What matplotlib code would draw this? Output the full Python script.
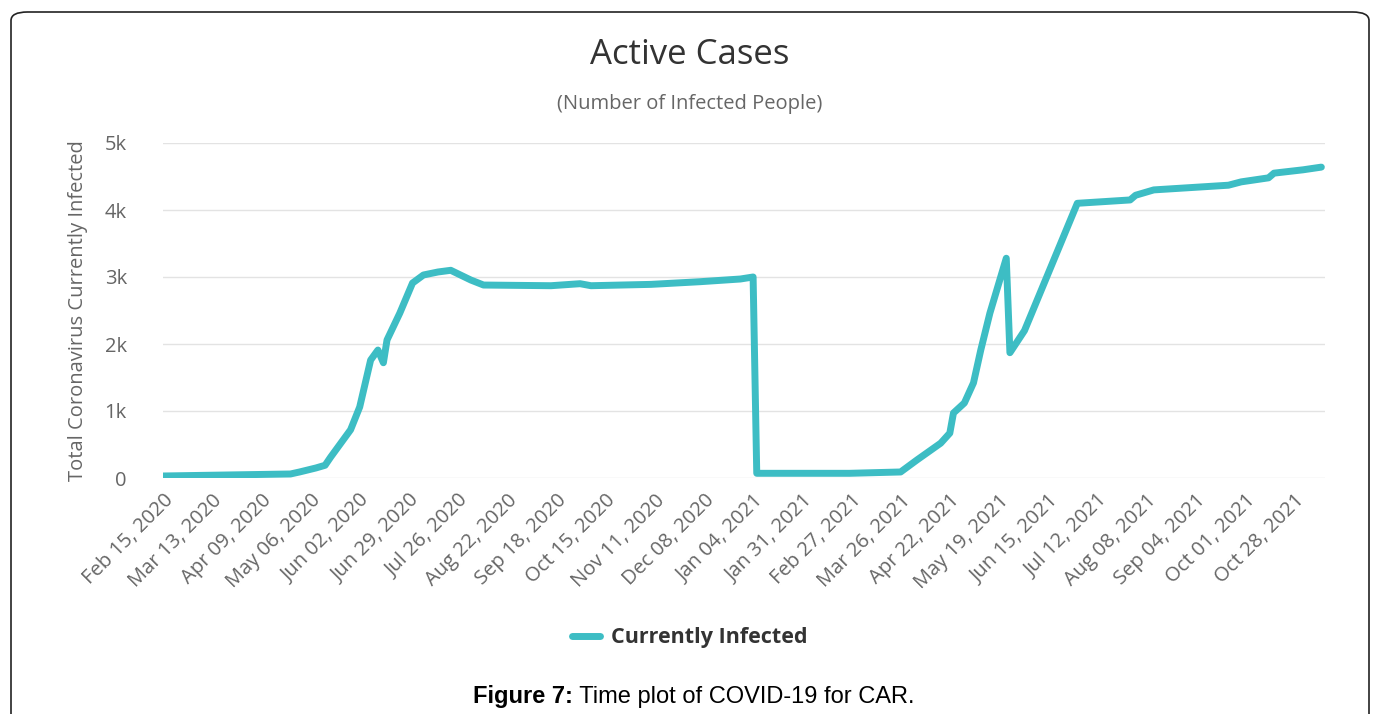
"""
plot.py – Active COVID-19 cases for CAR, redrawn as a single time plot.
"""

import matplotlib
matplotlib.use("Agg")
import matplotlib.pyplot as plt
from matplotlib.patches import FancyBboxPatch
import pandas as pd

# ── Data ─────────────────────────────────────────────────────────────────────
dates = [
    "2020-02-15", "2020-04-25", "2020-04-30", "2020-05-09", "2020-05-14",
    "2020-05-17", "2020-05-28", "2020-06-02", "2020-06-08", "2020-06-12",
    "2020-06-15", "2020-06-17", "2020-06-24", "2020-07-01", "2020-07-07",
    "2020-07-15", "2020-07-22", "2020-08-02", "2020-08-09", "2020-09-15",
    "2020-10-01", "2020-10-07", "2020-11-09", "2020-12-06", "2020-12-28",
    "2021-01-04", "2021-01-06", "2021-02-26", "2021-03-26", "2021-04-04",
    "2021-04-17", "2021-04-22", "2021-04-24", "2021-04-30", "2021-05-05",
    "2021-05-09", "2021-05-14", "2021-05-23", "2021-05-25", "2021-06-02",
    "2021-07-01", "2021-07-30", "2021-08-02", "2021-08-12", "2021-09-22",
    "2021-09-29", "2021-10-14", "2021-10-17", "2021-11-02", "2021-11-12",
]
active = [
    30, 60, 90, 150, 190,
    310, 720, 1060, 1760, 1910,
    1720, 2060, 2460, 2910, 3030,
    3075, 3100, 2955, 2880, 2870,
    2900, 2870, 2890, 2930, 2970,
    3000, 70, 70, 90, 270,
    520, 670, 970, 1120, 1420,
    1910, 2460, 3280, 1870, 2200,
    4100, 4150, 4220, 4300, 4370,
    4420, 4480, 4550, 4600, 4640,
]
y_ticks = [0, 1000, 2000, 3000, 4000, 5000]
y_tick_labels = ["0", "1k", "2k", "3k", "4k", "5k"]
x_tick_dates = pd.date_range("2020-02-15", periods=24, freq="27D")

# ── Style ────────────────────────────────────────────────────────────────────
LINE_COLOR = "#3dbdc4"
GRID_COLOR = "#e3e3e3"
TEXT_DARK = "#333333"
TEXT_GREY = "#666666"
FONT = ["Open Sans", "DejaVu Sans"]

W, H = 1374, 714
fig = plt.figure(figsize=(W / 100, H / 100), dpi=100)
plt.rcParams["font.family"] = FONT

# rounded frame around the whole figure
frame = FancyBboxPatch((11 / W, -0.05), 1358 / W, (H - 12) / H + 0.05,
                       boxstyle="round,pad=0,rounding_size=0.012",
                       transform=fig.transFigure, fill=False,
                       edgecolor="#222222", linewidth=1.2)
fig.patches.append(frame)

left, right, top, bottom = 163, 1325, 143, 478
ax = fig.add_axes([left / W, 1 - bottom / H, (right - left) / W, (bottom - top) / H])

x = pd.to_datetime(dates)
ax.plot(x, active, color=LINE_COLOR, linewidth=5,
        solid_joinstyle="round", solid_capstyle="round",
        label="Currently Infected", zorder=3)

ax.set_ylim(0, 5000)
ax.set_xlim(pd.Timestamp("2020-02-15"), pd.Timestamp("2021-11-14"))
ax.set_yticks(y_ticks)
ax.set_yticklabels(y_tick_labels)
ax.set_xticks(x_tick_dates)
ax.set_xticklabels([d.strftime("%b %d, %Y") for d in x_tick_dates],
                   rotation=45, ha="right", rotation_mode="anchor")

ax.grid(axis="y", color=GRID_COLOR, linewidth=1.0)
ax.set_axisbelow(True)
for s in ax.spines.values():
    s.set_visible(False)
ax.tick_params(axis="both", length=0, colors=TEXT_GREY)
ax.tick_params(axis="x", labelsize=14.5, pad=9)
ax.tick_params(axis="y", labelsize=14.5, pad=26)

ax.set_ylabel("Total Coronavirus Currently Infected", color=TEXT_GREY,
              fontsize=14.5, labelpad=12)

fig.text(690 / W, 1 - 55 / H, "Active Cases", ha="center", va="center",
         fontsize=25, color=TEXT_DARK)
fig.text(690 / W, 1 - 104 / H, "(Number of Infected People)", ha="center",
         va="center", fontsize=14.5, color=TEXT_GREY)

fig.legend(loc="center", bbox_to_anchor=(690 / W, 1 - 638 / H), frameon=False,
           handlelength=1.3, handletextpad=0.5,
           prop={"family": FONT, "weight": "bold", "size": 15.5},
           labelcolor=TEXT_DARK)

cap = fig.text(473 / W, 1 - 697 / H, "Figure 7:", ha="left", va="center",
               fontsize=17, fontweight="bold", family="Liberation Sans",
               color="black")
plt.annotate(" Time plot of COVID-19 for CAR.", xy=(1, 0.5), xycoords=cap,
             ha="left", va="center", fontsize=17, family="Liberation Sans",
             color="black", annotation_clip=False)

fig.savefig("out.png", dpi=100)
